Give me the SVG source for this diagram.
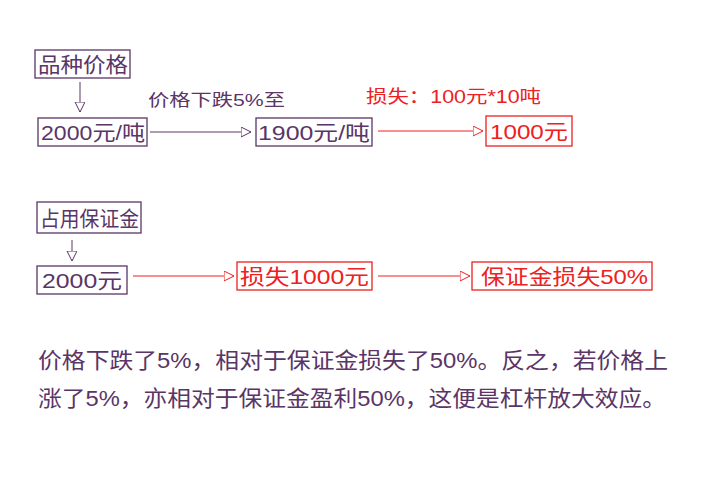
<svg xmlns="http://www.w3.org/2000/svg" width="710" height="477" viewBox="0 0 710 477">
<style>
text{font-family:"Liberation Sans","Noto Sans CJK SC",sans-serif}
.p{fill:#5a3566}.r{fill:#ee2020}
.bp{fill:#fff;stroke:#5a3566;stroke-width:1.3}
.br{fill:#fff;stroke:#ee2020;stroke-width:1.3}
.lp{stroke:#5a3566;stroke-width:1;fill:none}
.lr{stroke:#ee2020;stroke-width:1;fill:none}
</style>
<defs>
<marker id="ap" markerWidth="12" markerHeight="12" refX="10" refY="5" orient="auto" markerUnits="userSpaceOnUse"><path d="M0,0 L10,5 L0,10 Z" fill="#fff" stroke="#5a3566"/></marker>
<marker id="ar" markerWidth="12" markerHeight="12" refX="10" refY="5" orient="auto" markerUnits="userSpaceOnUse"><path d="M0,0 L10,5 L0,10 Z" fill="#fff" stroke="#ee2020"/></marker>
</defs>
<rect width="710" height="477" fill="#fff"/>
<g id="connectors">
<line class="lp" x1="80" y1="82" x2="80" y2="112" marker-end="url(#ap)"/>
<line class="lp" x1="150" y1="132" x2="251" y2="132" marker-end="url(#ap)"/>
<line class="lr" x1="378" y1="131" x2="483" y2="131" marker-end="url(#ar)"/>
<line class="lp" x1="72" y1="240" x2="72" y2="261" marker-end="url(#ap)"/>
<line class="lr" x1="133" y1="276" x2="234" y2="276" marker-end="url(#ar)"/>
<line class="lr" x1="378" y1="276" x2="470" y2="276" marker-end="url(#ar)"/>
</g>
<g id="n1"><rect class="bp" x="35" y="50" width="95" height="28"/><text class="p" x="38" y="72" font-size="21" textLength="90" lengthAdjust="spacingAndGlyphs">品种价格</text></g>
<g id="n2"><rect class="bp" x="38" y="118" width="109" height="28"/><text class="p" x="41" y="140" font-size="21" textLength="104" lengthAdjust="spacingAndGlyphs">2000元/吨</text></g>
<g id="n3"><rect class="bp" x="256" y="118" width="116" height="28"/><text class="p" x="258" y="140" font-size="21" textLength="112" lengthAdjust="spacingAndGlyphs">1900元/吨</text></g>
<g id="n4"><rect class="br" x="486" y="116" width="86" height="30"/><text class="r" x="490" y="139" font-size="21" textLength="78" lengthAdjust="spacingAndGlyphs">1000元</text></g>
<g id="lbl1"><text class="p" x="148" y="106" font-size="17" textLength="137" lengthAdjust="spacingAndGlyphs">价格下跌5%至</text></g>
<g id="lbl2"><text class="r" x="366" y="103" font-size="18" textLength="175" lengthAdjust="spacingAndGlyphs">损失：100元*10吨</text></g>
<g id="n5"><rect class="bp" x="37" y="202" width="104" height="31"/><text class="p" x="40" y="226" font-size="21" textLength="99" lengthAdjust="spacingAndGlyphs">占用保证金</text></g>
<g id="n6"><rect class="bp" x="37" y="266" width="90" height="28"/><text class="p" x="42" y="288" font-size="21" textLength="80" lengthAdjust="spacingAndGlyphs">2000元</text></g>
<g id="n7"><rect class="br" x="237" y="262" width="135" height="28"/><text class="r" x="240" y="284" font-size="21" textLength="129" lengthAdjust="spacingAndGlyphs">损失1000元</text></g>
<g id="n8"><rect class="br" x="472" y="262" width="180" height="28"/><text class="r" x="481" y="284" font-size="21" textLength="167" lengthAdjust="spacingAndGlyphs">保证金损失50%</text></g>
<g id="para">
<text class="p" x="38" y="368" font-size="22" textLength="630" lengthAdjust="spacingAndGlyphs">价格下跌了5%，相对于保证金损失了50%。反之，若价格上</text>
<text class="p" x="38" y="406" font-size="22" textLength="628" lengthAdjust="spacingAndGlyphs">涨了5%，亦相对于保证金盈利50%，这便是杠杆放大效应。</text>
</g>
</svg>
